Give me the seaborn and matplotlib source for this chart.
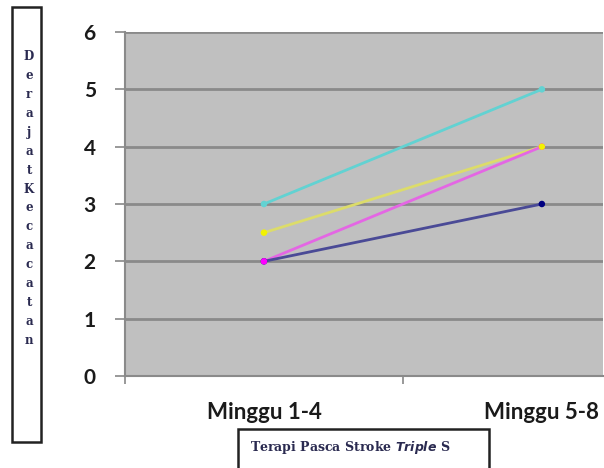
import matplotlib
matplotlib.use("Agg")
import matplotlib.pyplot as plt
import seaborn as sns
import pandas as pd
from matplotlib.patches import Rectangle

categories = ["Minggu 1-4", "Minggu 5-8"]
series_names = ["S1", "S2", "S3", "S4"]
s1 = [3, 5]
s2 = [2.5, 4]
s3 = [2, 4]
s4 = [2, 3]
colors = ["#62d2d2", "#dcdc6a", "#e466e4", "#4a4a96"]
marker_colors = ["#62d2d2", "#f2f200", "#ff00ff", "#000080"]
y_ticks = [0, 1, 2, 3, 4, 5, 6]
ylabel_text = "DerajatKecacatan"

rows = []
for name, vals in zip(series_names, [s1, s2, s3, s4]):
    for c, v in zip(categories, vals):
        rows.append({"kategori": c, "nilai": v, "seri": name})
df = pd.DataFrame(rows)

sns.set_theme(style="white")
fig = plt.figure(figsize=(6.04, 4.68), dpi=100)
ax = fig.add_axes([125/604, 1-376/468, (603-125)/604, (376-32)/468])
ax.set_facecolor("#c0c0c0")

sns.lineplot(data=df, x="kategori", y="nilai", hue="seri", palette=colors,
             linewidth=2, ax=ax, legend=False, sort=False)
# marker draw order: navy, magenta, yellow, cyan
for idx in [3, 2, 1, 0]:
    sub = df[df.seri == series_names[idx]]
    sns.scatterplot(data=sub, x="kategori", y="nilai", color=marker_colors[idx],
                    s=22, edgecolor="none", ax=ax, legend=False, zorder=5)

ax.set_ylim(0, 6)
ax.set_xlim(-0.5, 1.22)
ax.set_yticks(y_ticks)
ax.set_yticklabels([str(t) for t in y_ticks], fontsize=15, fontweight="bold",
                   family="Lato", color="#1a1a1a")
ax.set_xticks([0, 1])
ax.set_xticklabels(categories, fontsize=16, fontweight="bold", family="Lato",
                   color="#1a1a1a")
ax.set_xlabel("")
ax.set_ylabel("")
for y in y_ticks[1:]:
    ax.axhline(y, color="#8a8a8a", linewidth=2, zorder=1)
ax.set_xticks([-0.5, 0.5], minor=True)
ax.tick_params(axis="x", which="major", bottom=False, pad=26 - 13)
ax.tick_params(axis="x", which="minor", bottom=True, length=6, color="#888888", width=1.2)
ax.tick_params(axis="y", left=True, length=7, color="#888888", width=1.2, pad=14)
for s in ["top", "right"]:
    ax.spines[s].set_visible(False)
ax.spines["left"].set_color("#8a8a8a")
ax.spines["left"].set_linewidth(1.5)
ax.spines["bottom"].set_color("#8a8a8a")
ax.spines["bottom"].set_linewidth(1.5)

# Y label box
fig.patches.append(Rectangle((12/604, 1-442/468), 29/604, 435/468,
                             transform=fig.transFigure, fill=False,
                             edgecolor="#222222", linewidth=1.8))
n = len(ylabel_text)
for i, ch in enumerate(ylabel_text):
    ypix = 57 + i * (340 - 57) / (n - 1)
    fig.text(29/604, 1 - ypix/468, ch, ha="center", va="center", fontsize=8.5,
             fontweight="bold", family="DejaVu Serif", color="#2a2a50")

# X label box
fig.patches.append(Rectangle((238/604, -0.02), (489-238)/604, (468-429)/468 + 0.02,
                             transform=fig.transFigure, fill=False,
                             edgecolor="#222222", linewidth=1.8))
fig.text(250/604, 1-447/468,
         r"Terapi Pasca Stroke $\mathbfit{Triple}$ S",
         ha="left", va="center", fontsize=9, fontweight="bold",
         family="DejaVu Serif", color="#2a2a50")

fig.savefig("out.png", dpi=100)
